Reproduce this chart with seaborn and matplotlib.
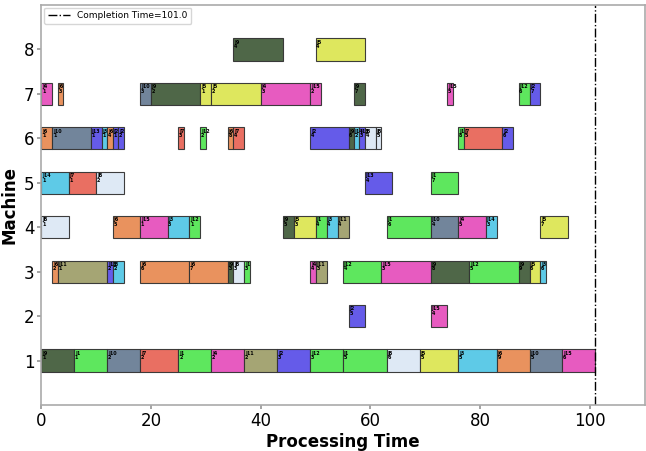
import matplotlib
matplotlib.use("Agg")
import matplotlib.pyplot as plt
import pandas as pd
import seaborn as sns

# schedule: one entry per operation
machines = [1] * 16 + [2] * 2 + [3] * 18 + [4] * 15 + [5] * 5 + [6] * 20 + [7] * 12 + [8] * 2
jobs = [9, 1, 10, 7, 1, 4, 11, 2, 12, 1, 8, 5, 3, 6, 10, 15,
        2, 15,
        6, 11, 13, 3, 6, 6, 9, 8, 1, 4, 11, 12, 15, 9, 12, 9, 5, 3,
        8, 6, 15, 3, 12, 9, 5, 1, 3, 11, 1, 10, 4, 14, 5,
        14, 7, 8, 13, 1,
        6, 10, 13, 3, 6, 2, 2, 7, 12, 6, 7, 2, 9, 14, 13, 8, 8, 1, 7, 2,
        4, 6, 10, 9, 5, 5, 4, 15, 9, 15, 12, 2,
        9, 5]
ops = [1, 1, 2, 2, 2, 2, 2, 3, 3, 5, 6, 5, 5, 9, 5, 6,
       5, 4,
       2, 1, 2, 2, 6, 7, 3, 3, 3, 4, 3, 4, 3, 8, 5, 9, 6, 6,
       1, 5, 1, 3, 1, 5, 3, 4, 4, 4, 6, 4, 5, 3, 7,
       1, 1, 2, 4, 7,
       1, 1, 1, 1, 4, 1, 2, 3, 2, 8, 4, 4, 6, 2, 3, 4, 5, 8, 5, 6,
       1, 3, 3, 2, 1, 2, 3, 2, 7, 5, 6, 7,
       4, 4]
starts = [0, 6, 12, 18, 25, 31, 37, 43, 49, 55, 63, 69, 76, 83, 89, 95,
          56, 71,
          2, 3, 12, 13, 18, 27, 34, 35, 37, 49, 50, 55, 62, 71, 78, 87, 89, 91,
          0, 13, 18, 23, 27, 44, 46, 50, 52, 54, 63, 71, 76, 81, 91,
          0, 5, 10, 59, 71,
          0, 2, 9, 11, 12, 13, 14, 25, 29, 34, 35, 49, 56, 57, 58, 59, 61, 76, 77, 84,
          0, 3, 18, 20, 29, 31, 40, 49, 57, 74, 87, 89,
          35, 50]
ends = [6, 12, 18, 25, 31, 37, 43, 49, 55, 63, 69, 76, 83, 89, 95, 101,
        59, 74,
        3, 12, 13, 15, 27, 34, 35, 37, 38, 50, 52, 62, 71, 78, 87, 89, 91, 92,
        5, 18, 23, 27, 29, 46, 50, 52, 54, 56, 71, 76, 81, 83, 96,
        5, 10, 15, 64, 76,
        2, 9, 11, 12, 13, 14, 15, 26, 30, 35, 37, 56, 57, 58, 59, 61, 62, 77, 84, 86,
        2, 4, 20, 29, 31, 40, 49, 51, 59, 75, 89, 91,
        44, 59]

job_colors = ["#55e655", "#5d52e8", "#55c8e6", "#e652bd", "#dde655", "#e88c55",
              "#e8675a", "#dde8f5", "#455f3e", "#6a7f96", "#a0a06c"]

makespan = 101.0

df = pd.DataFrame({"machine": machines, "job": jobs, "op": ops,
                   "start": starts, "end": ends})
df["dur"] = df["end"] - df["start"]

sns.set_theme(style="white")
plt.rcParams["font.family"] = ["DejaVu Sans"]
plt.rcParams["text.color"] = "black"
plt.rcParams["axes.labelcolor"] = "black"
plt.rcParams["xtick.color"] = "black"
plt.rcParams["ytick.color"] = "black"

fig, ax = plt.subplots(figsize=(6.46, 4.51), dpi=100)
fig.subplots_adjust(left=0.064, right=0.998, top=0.989, bottom=0.102)

for _, r in df.iterrows():
    ax.barh(r["machine"], r["dur"], left=r["start"], height=0.5,
            color=job_colors[(r["job"] - 1) % len(job_colors)],
            edgecolor="#333333", linewidth=0.8, alpha=0.95)
    ax.text(r["start"] + 0.12, r["machine"] + 0.22, f"J{r['job']}\n{r['op']}",
            fontsize=3.5, fontweight="bold", va="top", ha="left",
            linespacing=0.9, color="black")

ax.axvline(makespan, color="black", linestyle="-.", linewidth=1,
           label=f"Completion Time={makespan}")

ax.set_xlim(0, 110)
ax.set_ylim(0, 9)
ax.set_xticks([0, 20, 40, 60, 80, 100])
ax.set_yticks(range(1, 9))
ax.tick_params(axis="both", labelsize=12, length=3, color="#999999",
               bottom=True, left=True, pad=2)
for s in ax.spines.values():
    s.set_color("#aaaaaa")
    s.set_linewidth(1.2)

ax.set_xlabel("Processing Time", fontsize=12, fontweight="bold", labelpad=2)
ax.set_ylabel("Machine", fontsize=12, fontweight="bold", labelpad=4)
ax.legend(loc="upper left", fontsize=6.5, handlelength=2.5, borderaxespad=0.3)

fig.savefig("out.png", dpi=100)
